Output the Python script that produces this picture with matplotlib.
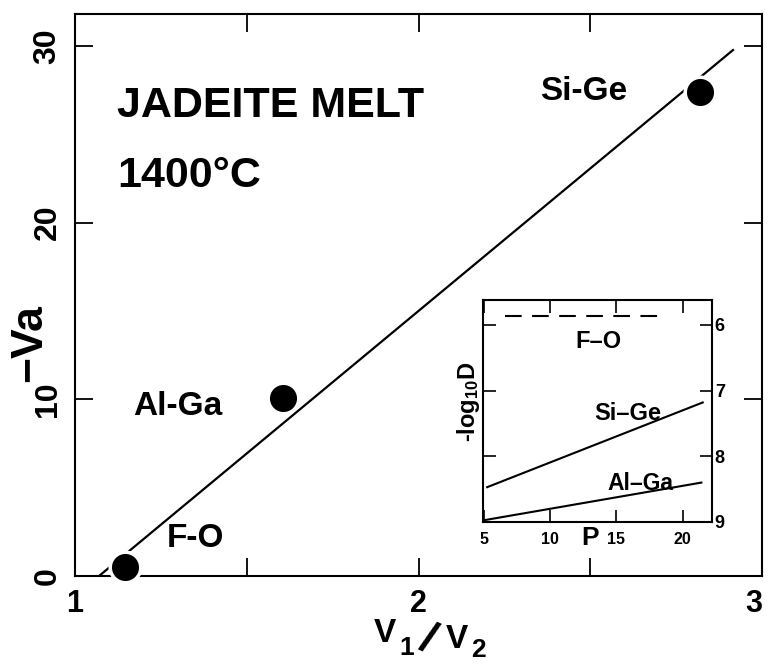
import matplotlib
matplotlib.use("Agg")
import matplotlib.pyplot as plt
import numpy as np

plt.rcParams['font.family'] = ['Liberation Sans', 'DejaVu Sans']
plt.rcParams['font.weight'] = 'bold'
plt.rcParams['mathtext.fontset'] = 'custom'
plt.rcParams['mathtext.rm'] = 'Liberation Sans:bold'
plt.rcParams['mathtext.bf'] = 'Liberation Sans:bold'
plt.rcParams['mathtext.default'] = 'bf'

# ---- main data ----
pair_labels = ["F-O", "Al-Ga", "Si-Ge"]
v_ratio = [1.146, 1.605, 2.82]
neg_va = [0.5, 10.05, 27.4]
fit_x = [1.07, 2.918]
fit_y = [0.0, 29.8]

x_ticks = [1, 2, 3]
x_minor = [1.5, 2.5]
y_ticks = [0, 10, 20, 30]

# ---- inset data ----
p_fo = [6.6, 18.4]
logd_fo = [5.87, 5.87]
p_sige = [5.25, 21.5]
logd_sige = [8.47, 7.18]
p_alga = [5.1, 21.4]
logd_alga = [8.97, 8.40]
inset_xticks = [5, 10, 15, 20]
inset_yticks = [6, 7, 8, 9]

W, H = 768, 664
fig = plt.figure(figsize=(W / 100, H / 100), dpi=100)

def fx(px):
    return px / W

def fy(py):
    return 1 - py / H

L, R, T, B = 75, 762, 14, 576
ax = fig.add_axes([fx(L), fy(B), (R - L) / W, (B - T) / H])
ax.set_xlim(1, 3)
ax.set_ylim(0, 31.8)

ax.plot(fit_x, fit_y, color='black', lw=1.6, solid_capstyle='butt', zorder=2)
ax.plot(v_ratio, neg_va, 'o', color='black', ms=22, mec='white', mew=2.5,
        clip_on=False, zorder=3)

for s in ax.spines.values():
    s.set_linewidth(1.5)

ax.set_xticks(x_ticks)
ax.set_xticklabels([str(v) for v in x_ticks], fontsize=22, fontweight='bold')
ax.set_xticks(x_minor, minor=True)
ax.set_yticks(y_ticks)
ax.set_yticklabels([str(v) for v in y_ticks], fontsize=23, fontweight='bold',
                   rotation=90, va='center')
ax.tick_params(which='both', direction='in', length=13, width=1.3,
               top=True, right=True)
ax.tick_params(axis='x', pad=9)
ax.tick_params(axis='y', pad=9)
ax.get_xticklabels()[-1].set_ha('right')
ax.get_xticklabels()[-1].set_x(3.0)

ax.text(0.061, 0.817, "JADEITE MELT", transform=ax.transAxes, fontsize=31,
        fontweight='bold', ha='left', va='baseline')
ax.text(0.061, 0.692, "1400°C", transform=ax.transAxes, fontsize=31,
        fontweight='bold', ha='left', va='baseline')
ax.text(0.741, 0.847, pair_labels[2], transform=ax.transAxes, fontsize=24,
        fontweight='bold', ha='center', va='baseline')
ax.text(0.150, 0.2865, pair_labels[1], transform=ax.transAxes, fontsize=24,
        fontweight='bold', ha='center', va='baseline')
ax.text(0.175, 0.0516, pair_labels[0], transform=ax.transAxes, fontsize=24,
        fontweight='bold', ha='center', va='baseline')

# y label
fig.text(fx(30), fy(343), "\u2212Va", rotation=90, fontsize=32,
         fontweight='bold', ha='center', va='center')

# x label composed: V1 / V2
fig.text(fx(374), fy(642), "V", fontsize=24, fontweight='bold', ha='left', va='baseline')
fig.text(fx(399), fy(655), "1", fontsize=19, fontweight='bold', ha='left', va='baseline')
fig.text(fx(427), fy(640), "/", fontsize=32, fontweight='bold', ha='center',
         va='center', rotation=-24)
fig.text(fx(446), fy(648), "V", fontsize=24, fontweight='bold', ha='left', va='baseline')
fig.text(fx(471), fy(657), "2", fontsize=19, fontweight='bold', ha='left', va='baseline')

# ---- inset ----
iL, iR, iT, iB = 482.5, 712, 300, 522
ax2 = fig.add_axes([fx(iL), fy(iB), (iR - iL) / W, (iB - iT) / H])
ax2.set_xlim(4.9, 22.2)
ax2.set_ylim(9.0, 5.62)
ax2.plot(p_fo, logd_fo, color='black', lw=1.5, dashes=(8, 5))
ax2.plot(p_sige, logd_sige, color='black', lw=1.5)
ax2.plot(p_alga, logd_alga, color='black', lw=1.5)
for s in ax2.spines.values():
    s.set_linewidth(1.5)
ax2.set_xticks(inset_xticks)
ax2.set_xticklabels([str(v) for v in inset_xticks], fontsize=11.5, fontweight='bold')
ax2.set_yticks(inset_yticks)
ax2.set_yticklabels([str(v) for v in inset_yticks], fontsize=13, fontweight='bold')
ax2.tick_params(which='both', direction='in', length=9, width=1.2,
                top=True, right=True, left=True, bottom=True,
                labelleft=False, labelright=True)
ax2.tick_params(axis='x', pad=7)
ax2.tick_params(axis='y', pad=2)

ax2.text(0.503, 0.784, "F\u2013O", transform=ax2.transAxes, fontsize=17,
         fontweight='bold', ha='center', va='baseline')
ax2.text(0.634, 0.459, "Si\u2013Ge", transform=ax2.transAxes, fontsize=17,
         fontweight='bold', ha='center', va='baseline')
ax2.text(0.686, 0.144, "Al\u2013Ga", transform=ax2.transAxes, fontsize=16.5,
         fontweight='bold', ha='center', va='baseline')
ax2.text(0.468, -0.072, "P", transform=ax2.transAxes, fontsize=19,
         fontweight='bold', ha='center', va='center')
fig.text(fx(468), fy(402), "-log$_{10}$D", rotation=90, fontsize=17,
         fontweight='bold', ha='center', va='center')

fig.savefig("out.png", dpi=100)
